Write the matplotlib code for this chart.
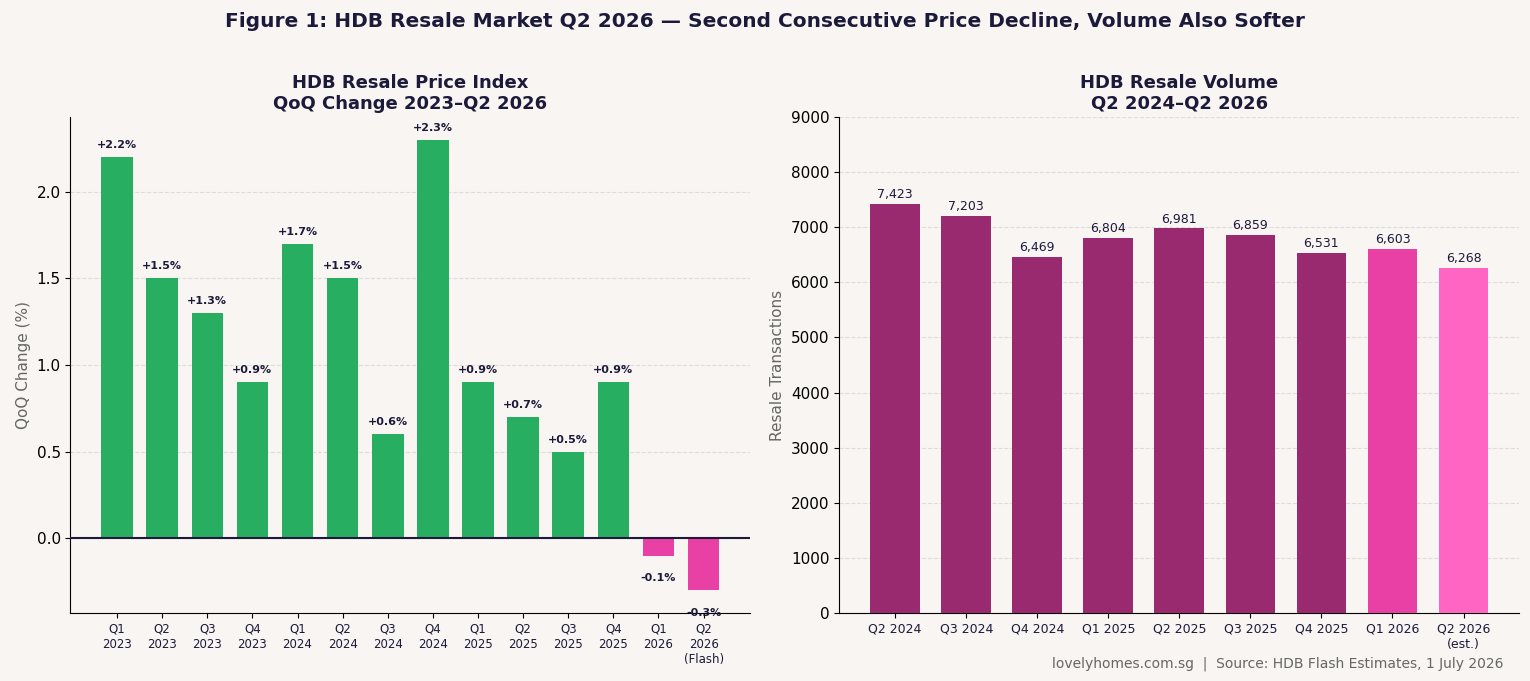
import matplotlib.pyplot as plt
import numpy as np

BG = "#f8f5f2"
DARK = "#1c1a3a"
GREEN = "#27ae60"
PINK = "#e840a5"
PURPLE = "#9a2a70"
LIGHT_PINK = "#ff66c4"

qoq_labels = ["Q1\n2023", "Q2\n2023", "Q3\n2023", "Q4\n2023",
              "Q1\n2024", "Q2\n2024", "Q3\n2024", "Q4\n2024",
              "Q1\n2025", "Q2\n2025", "Q3\n2025", "Q4\n2025",
              "Q1\n2026", "Q2\n2026\n(Flash)"]
qoq_change = [2.2, 1.5, 1.3, 0.9, 1.7, 1.5, 0.6, 2.3, 0.9, 0.7, 0.5, 0.9, -0.1, -0.3]

vol_labels = ["Q2 2024", "Q3 2024", "Q4 2024", "Q1 2025", "Q2 2025",
              "Q3 2025", "Q4 2025", "Q1 2026", "Q2 2026\n(est.)"]
volume = [7423, 7203, 6469, 6804, 6981, 6859, 6531, 6603, 6268]


def main() -> None:
    fig, (ax1, ax2) = plt.subplots(1, 2, figsize=(15.3, 6.81), dpi=100)
    fig.patch.set_facecolor(BG)
    fig.subplots_adjust(left=0.046, right=0.993, top=0.828, bottom=0.1, wspace=0.131)

    # left: QoQ price change
    x1 = np.arange(len(qoq_change))
    colors1 = [GREEN if v >= 0 else PINK for v in qoq_change]
    ax1.bar(x1, qoq_change, width=0.7, color=colors1, zorder=3)
    ax1.axhline(0, color=DARK, linewidth=1.5, zorder=4)
    for xi, v in zip(x1, qoq_change):
        if v >= 0:
            ax1.text(xi, v + 0.04, f"+{v:.1f}%", ha="center", va="bottom",
                     fontsize=8, fontweight="bold", color=DARK)
        else:
            ax1.text(xi, v - 0.13, f"{v:.1f}%", ha="center", va="center",
                     fontsize=8, fontweight="bold", color=DARK)
    ax1.set_xticks(x1)
    ax1.set_xticklabels(qoq_labels, fontsize=8.5, color=DARK)
    ax1.set_ylim(-0.43, 2.43)
    ax1.set_yticks([0.0, 0.5, 1.0, 1.5, 2.0])
    ax1.set_ylabel("QoQ Change (%)", fontsize=11, color="#666666")
    ax1.set_title("HDB Resale Price Index\nQoQ Change 2023\u2013Q2 2026",
                  fontsize=13, fontweight="bold", color=DARK)

    # right: resale volume
    x2 = np.arange(len(volume))
    colors2 = [PURPLE] * 7 + [PINK, LIGHT_PINK]
    ax2.bar(x2, volume, width=0.7, color=colors2, zorder=3)
    for xi, v in zip(x2, volume):
        ax2.text(xi, v + 50, f"{v:,}", ha="center", va="bottom",
                 fontsize=9, color=DARK)
    ax2.set_xticks(x2)
    ax2.set_xticklabels(vol_labels, fontsize=9, color=DARK)
    ax2.set_ylim(0, 9000)
    ax2.set_yticks(range(0, 9001, 1000))
    ax2.set_ylabel("Resale Transactions", fontsize=11, color="#666666")
    ax2.set_title("HDB Resale Volume\nQ2 2024\u2013Q2 2026",
                  fontsize=13, fontweight="bold", color=DARK)

    for ax in (ax1, ax2):
        ax.set_facecolor(BG)
        ax.spines["top"].set_visible(False)
        ax.spines["right"].set_visible(False)
        ax.yaxis.grid(True, linestyle="--", color="#dddddd", linewidth=0.8, zorder=0)
        ax.tick_params(axis="y", labelsize=11)

    fig.suptitle("Figure 1: HDB Resale Market Q2 2026 \u2014 Second Consecutive Price Decline, Volume Also Softer",
                 fontsize=14.5, fontweight="bold", color=DARK, y=0.983)
    fig.text(0.983, 0.015, "lovelyhomes.com.sg  |  Source: HDB Flash Estimates, 1 July 2026",
             ha="right", va="bottom", fontsize=10, color="#666666")

    fig.savefig("out.png", dpi=100, facecolor=BG)
    plt.close(fig)


if __name__ == "__main__":
    main()
